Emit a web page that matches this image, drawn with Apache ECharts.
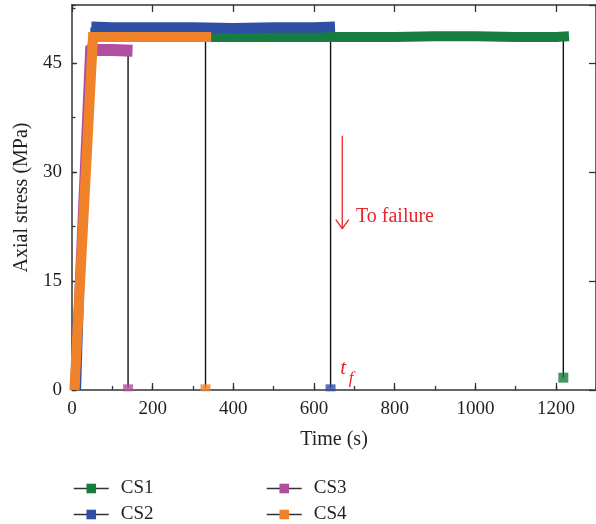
<!DOCTYPE html>
<html>
<head>
<meta charset="utf-8">
<script src="https://cdn.jsdelivr.net/npm/echarts@6/dist/echarts.min.js"></script>
<style>html,body{margin:0;padding:0;background:#fff;}#c{width:596px;height:524px;}</style>
</head>
<body>
<div id="c"></div>
<script>
// ---- data ----
const seriesNames = ['CS1', 'CS2', 'CS3', 'CS4'];
const xTicks = [0, 200, 400, 600, 800, 1000, 1200];
const yTicks = [0, 15, 30, 45];

const cs1RiseTime = [8, 50];
const cs1RiseStress = [0, 48.6];
const cs1HoldTime = [50, 200, 400, 600, 800, 900, 1000, 1100, 1200, 1232];
const cs1HoldStress = [48.6, 48.6, 48.6, 48.6, 48.6, 48.7, 48.7, 48.6, 48.6, 48.7];

const cs2RiseTime = [20, 48];
const cs2RiseStress = [0, 49.9];
const cs2HoldTime = [48, 100, 200, 300, 400, 500, 600, 652];
const cs2HoldStress = [50.0, 49.9, 49.9, 49.9, 49.8, 49.9, 49.9, 50.0];

const cs3RiseTime = [0, 38];
const cs3RiseStress = [0, 47.4];
const cs3HoldTime = [38, 60, 100, 150];
const cs3HoldStress = [46.8, 46.8, 46.8, 46.7];

const cs4Time = [6, 52, 100, 200, 300, 345];
const cs4Stress = [0, 48.6, 48.6, 48.6, 48.6, 48.6];

// failure points (t_f) per specimen CS1..CS4
const failTime = [1218, 641, 139, 331];
const failTopStress = [48.2, 49.5, 46.2, 48.2];
const failStress = [1.7, 0.3, 0.3, 0.3];

const colors = ['#167c3f', '#2e4fa3', '#b04fa0', '#f0822a'];
const zip = (a, b) => a.map((v, i) => [v, b[i]]);

const FONT = 'Liberation Serif';
const TXT = '#231f20';
const AX = '#333';

const chart = echarts.init(document.getElementById('c'), null, {renderer: 'canvas'});

function lineSeries(name, data, color, width, z) {
  return {
    type: 'line', name: name, data: data, z: z,
    xAxisIndex: 0, yAxisIndex: 0,
    symbol: 'rect', symbolSize: 10, showSymbol: false,
    lineStyle: {color: color, width: width, cap: 'butt', join: 'miter'},
    itemStyle: {color: color},
    silent: true, animation: false
  };
}

const series = [];
for (let i = 0; i < 4; i++) {
  series.push({
    type: 'line', data: [[failTime[i], failTopStress[i]], [failTime[i], failStress[i]]],
    xAxisIndex: 0, yAxisIndex: 0,
    showSymbol: false, symbol: 'none', z: 1,
    lineStyle: {color: '#111', width: 1.4}, silent: true, animation: false
  });
}
series.push(lineSeries(undefined, zip(cs1RiseTime, cs1RiseStress), colors[0], 2, 2));
series.push(lineSeries('CS1', zip(cs1HoldTime, cs1HoldStress), colors[0], 10, 2));
series.push(lineSeries(undefined, zip(cs2RiseTime, cs2RiseStress), colors[1], 2, 3));
series.push(lineSeries('CS2', zip(cs2HoldTime, cs2HoldStress), colors[1], 10.5, 3));
series.push(lineSeries(undefined, zip(cs3RiseTime, cs3RiseStress), colors[2], 4, 4));
series.push(lineSeries('CS3', zip(cs3HoldTime, cs3HoldStress), colors[2], 12, 4));
series.push(lineSeries('CS4', zip(cs4Time, cs4Stress), colors[3], 10, 5));
for (let i = 0; i < 4; i++) {
  series.push({
    type: 'scatter', data: [[failTime[i], failStress[i]]], z: 6,
    xAxisIndex: 0, yAxisIndex: 0,
    symbol: 'rect', symbolSize: i === 0 ? [10, 10] : [10, 7],
    itemStyle: {color: colors[i]}, silent: true, animation: false, clip: false
  });
}

const gridLeft = 72, gridTop = 5, gridW = 526, gridH = 385;
const xMax = 1299, yMax = 53;

const tick = (len) => ({show: true, inside: true, length: len, lineStyle: {color: AX, width: 1.3}});
const axLine = (show) => ({show: show, onZero: false, lineStyle: {color: AX, width: 1.5}});
const lbl = {show: true, margin: 10, fontFamily: FONT, fontSize: 19, color: TXT, showMaxLabel: false};

function legendFor(name, left, top) {
  return {
    data: [name], left: left, top: top, orient: 'horizontal',
    itemWidth: 35, itemHeight: 12, padding: 0,
    lineStyle: {color: '#333', width: 1.5},
    textStyle: {fontFamily: FONT, fontSize: 19, color: TXT, padding: [0, 0, 0, 7]},
    selectedMode: false
  };
}

const option = {
  backgroundColor: '#fff',
  animation: false,
  grid: [
    {left: gridLeft, top: gridTop, width: gridW, height: gridH, containLabel: false},
    {left: gridLeft, top: gridTop, width: gridW, height: gridH, containLabel: false}
  ],
  xAxis: [
    {
      gridIndex: 0, type: 'value', position: 'bottom', min: 0, max: xMax, interval: 200,
      name: 'Time (s)', nameLocation: 'middle', nameGap: 40,
      nameTextStyle: {fontFamily: FONT, fontSize: 20, color: TXT},
      axisLine: axLine(true),
      axisTick: tick(7),
      axisLabel: Object.assign({}, lbl, {formatter: v => (xTicks.indexOf(v) >= 0 ? String(v) : '')}),
      splitLine: {show: false}
    },
    {
      gridIndex: 0, type: 'value', position: 'top', min: 0, max: xMax, interval: 200,
      axisLine: axLine(true),
      axisLabel: {show: false}, splitLine: {show: false},
      axisTick: tick(7)
    },
    {
      gridIndex: 1, type: 'value', position: 'bottom', min: 0, max: xMax, interval: 100,
      axisLine: axLine(false), axisLabel: {show: false}, splitLine: {show: false},
      axisTick: tick(4)
    }
  ],
  yAxis: [
    {
      gridIndex: 0, type: 'value', position: 'left', min: 0, max: yMax, interval: 15,
      name: 'Axial stress (MPa)', nameLocation: 'middle', nameGap: 40,
      nameTextStyle: {fontFamily: FONT, fontSize: 20, color: TXT},
      axisLine: axLine(true),
      axisTick: tick(5),
      axisLabel: Object.assign({}, lbl, {formatter: v => (yTicks.indexOf(v) >= 0 ? String(v) : '')}),
      splitLine: {show: false}
    },
    {
      gridIndex: 0, type: 'value', position: 'right', min: 0, max: yMax, interval: 15,
      axisLine: axLine(true),
      axisLabel: {show: false}, splitLine: {show: false},
      axisTick: tick(7)
    },
    {
      gridIndex: 1, type: 'value', position: 'left', min: 0, max: yMax, interval: 7.5,
      axisLine: axLine(false), axisLabel: {show: false}, splitLine: {show: false},
      axisTick: tick(3.5)
    }
  ],
  legend: [
    legendFor('CS1', 73, 479),
    legendFor('CS2', 73, 505),
    legendFor('CS3', 266, 479),
    legendFor('CS4', 266, 505)
  ],
  series: series
};
chart.setOption(option);

// annotations anchored in data coordinates
const p = (x, y) => chart.convertToPixel({gridIndex: 0}, [x, y]);
const aTop = p(670, 35), aBot = p(670, 22.2);
const txt = p(704, 23.9);
const tPos = p(665, 3.0), fPos = p(686, 1.6);
const RED = '#e8262a';
chart.setOption({
  graphic: [
    {type: 'line', shape: {x1: aTop[0], y1: aTop[1], x2: aBot[0], y2: aBot[1]}, style: {stroke: RED, lineWidth: 1.3}},
    {type: 'polyline', shape: {points: [[aBot[0] - 6.5, aBot[1] - 9], [aBot[0], aBot[1]], [aBot[0] + 6.5, aBot[1] - 9]]}, style: {stroke: RED, lineWidth: 1.3, fill: null}},
    {type: 'text', x: txt[0], y: txt[1], style: {text: 'To failure', fill: RED, font: '20px "Liberation Serif"', verticalAlign: 'middle'}},
    {type: 'text', x: tPos[0], y: tPos[1], style: {text: 't', fill: RED, font: 'italic 21px "Liberation Serif"', verticalAlign: 'middle'}},
    {type: 'text', x: fPos[0], y: fPos[1], style: {text: 'f', fill: RED, font: 'italic 17px "Liberation Serif"', verticalAlign: 'middle'}}
  ]
});
</script>
</body>
</html>
